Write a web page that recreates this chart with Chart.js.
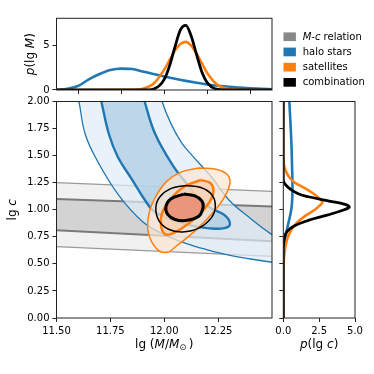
<!DOCTYPE html>
<html>
<head>
<meta charset="utf-8">
<script src="https://cdn.jsdelivr.net/npm/chart.js@4/dist/chart.umd.min.js"></script>
<style>
  html, body { margin: 0; padding: 0; background: #fff; }
  #wrap { position: relative; width: 374px; height: 374px; }
  canvas { position: absolute; left: 0; top: 0; }
</style>
</head>
<body>
<div id="wrap">
  <canvas id="main" width="374" height="374"></canvas>
  <canvas id="top" width="374" height="374"></canvas>
  <canvas id="side" width="374" height="374"></canvas>
</div>
<script>
// Ticks
const mainMassTicks = [11.5, 11.75, 12.0, 12.25];
const concTicks = [0, 0.25, 0.5, 0.75, 1.0, 1.25, 1.5, 1.75, 2.0];
const topMassTicks = [11.6, 11.8, 12.0, 12.2, 12.4];
const topDensityTicks = [0, 5];
const sideDensityTicks = [0, 2.5, 5];

// Legend
const legendLabels = ["M-c relation", "halo stars", "satellites", "combination"];
const legendColors = ["#888888", "#1f77b4", "#ff7f0e", "#000000"];

// M-c relation: 1 and 2 sigma band edges (lg c at lg M = 11.5 and 12.5)
const mcMass = [11.5, 12.5];
const mcUpper2 = [1.25, 1.17];
const mcUpper1 = [1.10, 1.03];
const mcLower1 = [0.81, 0.71];
const mcLower2 = [0.66, 0.57];

// Halo stars contours (closed, run past the frame)
const haloOuterM = [11.585, 11.604, 11.633, 11.69, 11.79, 11.90, 12.00, 12.10, 12.20, 12.30, 12.40, 12.50, 12.62,
                    12.62, 12.50, 12.40, 12.30, 12.22, 12.13, 12.08, 12.03, 11.99, 11.975, 11.585];
const haloOuterC = [2.15, 2.00, 1.70, 1.45, 1.13, 0.89, 0.77, 0.69, 0.63, 0.58, 0.545, 0.515, 0.48,
                    0.62, 0.77, 0.92, 1.09, 1.30, 1.50, 1.62, 1.80, 2.00, 2.15, 2.15];
const haloInnerM = [11.69, 11.708, 11.743, 11.784, 11.85, 11.91, 11.95, 12.02, 12.12, 12.21, 12.28, 12.305,
                    12.28, 12.22, 12.168, 12.105, 12.045, 11.958, 11.909, 11.89, 11.69];
const haloInnerC = [2.15, 2.00, 1.70, 1.49, 1.28, 1.09, 0.99, 0.92, 0.855, 0.828, 0.83, 0.87,
                    0.95, 1.01, 1.088, 1.24, 1.394, 1.70, 2.00, 2.15, 2.15];

// Satellites contours
const satOuterM = [12.16, 12.24, 12.29, 12.305, 12.28, 12.22, 12.14, 12.06, 12.01, 11.96, 11.925, 11.93, 11.96, 12.01, 12.08, 12.16];
const satOuterC = [1.385, 1.375, 1.33, 1.25, 1.12, 0.96, 0.80, 0.67, 0.605, 0.65, 0.80, 0.97, 1.12, 1.26, 1.35, 1.385];
const satInnerM = [12.17, 12.215, 12.228, 12.21, 12.16, 12.09, 12.03, 12.0, 11.985, 11.99, 12.03, 12.09, 12.17];
const satInnerC = [1.275, 1.245, 1.17, 1.07, 0.95, 0.84, 0.775, 0.78, 0.86, 0.97, 1.10, 1.21, 1.275];

// Combination contours
const combOuterM = [12.10, 12.17, 12.22, 12.237, 12.22, 12.16, 12.085, 12.02, 11.975, 11.961, 11.98, 12.03, 12.10];
const combOuterC = [1.225, 1.205, 1.14, 1.04, 0.93, 0.83, 0.795, 0.82, 0.90, 1.02, 1.12, 1.195, 1.225];
const combInnerM = [12.09, 12.14, 12.175, 12.18, 12.16, 12.10, 12.05, 12.015, 12.008, 12.03, 12.09];
const combInnerC = [1.145, 1.13, 1.08, 1.02, 0.94, 0.90, 0.91, 0.96, 1.03, 1.10, 1.145];

// Top marginal p(lg M)
const haloMassX = [11.50, 11.55, 11.60, 11.65, 11.70, 11.75, 11.80, 11.85, 11.90, 11.95, 12.00, 12.05, 12.10, 12.15, 12.20, 12.25, 12.30, 12.35, 12.40, 12.45, 12.50];
const haloMassP = [0.03, 0.15, 0.45, 1.2, 1.8, 2.25, 2.42, 2.37, 2.1, 1.8, 1.52, 1.26, 1.03, 0.82, 0.63, 0.48, 0.36, 0.27, 0.19, 0.13, 0.09];
const satMassX = [11.50, 11.85, 11.90, 11.95, 12.00, 12.025, 12.05, 12.075, 12.10, 12.125, 12.15, 12.175, 12.20, 12.25, 12.30, 12.35, 12.40, 12.50];
const satMassP = [0, 0.02, 0.14, 0.7, 2.3, 3.4, 4.5, 5.2, 5.44, 5.0, 4.1, 3.0, 1.9, 0.52, 0.1, 0.01, 0, 0];
const combMassX = [11.50, 11.90, 11.95, 12.00, 12.025, 12.05, 12.075, 12.10, 12.125, 12.15, 12.175, 12.20, 12.25, 12.30, 12.50];
const combMassP = [0, 0, 0.11, 1.2, 2.75, 4.9, 6.8, 7.3, 6.1, 4.0, 2.0, 0.81, 0.06, 0, 0];

// Right marginal p(lg c)
const haloConcC = [0, 0.45, 0.55, 0.65, 0.75, 0.85, 0.95, 1.05, 1.20, 1.40, 1.60, 1.80, 2.00];
const haloConcP = [0, 0, 0.02, 0.06, 0.15, 0.31, 0.48, 0.60, 0.64, 0.61, 0.57, 0.50, 0.42];
const satConcC = [0, 0.40, 0.50, 0.60, 0.70, 0.75, 0.80, 0.85, 0.90, 0.95, 1.00, 1.04, 1.07, 1.10, 1.15, 1.20, 1.25, 1.30, 1.35, 1.40, 1.45, 1.60, 2.00];
const satConcP = [0, 0, 0.02, 0.08, 0.21, 0.33, 0.50, 0.75, 1.12, 1.60, 2.20, 2.55, 2.72, 2.55, 2.10, 1.50, 0.80, 0.42, 0.20, 0.07, 0.02, 0, 0];
const combConcC = [0, 0.65, 0.70, 0.75, 0.80, 0.85, 0.90, 0.95, 1.00, 1.025, 1.05, 1.08, 1.12, 1.15, 1.20, 1.25, 1.30, 2.00];
const combConcP = [0, 0, 0.03, 0.10, 0.27, 0.75, 1.70, 3.05, 4.25, 4.60, 4.30, 3.20, 1.75, 1.00, 0.40, 0.05, 0, 0];

const FONT = '"DejaVu Sans", sans-serif';
const pts = (xs, ys) => xs.map((x, i) => ({ x, y: ys[i] }));
const band = (xs, hi, lo) => pts(xs.concat([...xs].reverse()), hi.concat([...lo].reverse()));

// Mixed upright/italic text (matplotlib mathtext look-alike)
function drawRich(ctx, parts, x, y, size, rot, align) {
  const fontFor = (p) => `${p.i ? "italic " : ""}${p.s ? size * 0.7 : size}px ${FONT}`;
  ctx.save();
  ctx.translate(x, y);
  if (rot) ctx.rotate(rot);
  let w = 0;
  for (const p of parts) { ctx.font = fontFor(p); w += ctx.measureText(p.t).width; }
  let cx = align === "left" ? 0 : -w / 2;
  ctx.fillStyle = "#000";
  ctx.textBaseline = "middle";
  ctx.textAlign = "left";
  for (const p of parts) {
    ctx.font = fontFor(p);
    ctx.fillText(p.t, cx, p.s ? size * 0.3 : 0);
    cx += ctx.measureText(p.t).width;
  }
  ctx.restore();
}

// Single-letter symbols M and c go in italics
const richLabel = (s) => s.split(/\b([Mc])\b/).filter(Boolean).map((t) => ({ t, i: t === "M" || t === "c" }));

function drawLegend(ctx) {
  legendLabels.forEach((label, i) => {
    const cy = 36.7 + i * 15.2;
    ctx.fillStyle = legendColors[i];
    ctx.fillRect(283.5, cy - 4.3, 12.4, 8.7);
    drawRich(ctx, richLabel(label), 302.7, cy + 0.5, 10, 0, "left");
  });
}

const decor = {
  id: "decor",
  afterDatasetsDraw(chart) {
    const { ctx, chartArea: a } = chart;
    ctx.save();
    ctx.strokeStyle = "#222";
    ctx.lineWidth = 1;
    ctx.strokeRect(a.left, a.top, a.right - a.left, a.bottom - a.top);
    ctx.restore();
  },
  afterDraw(chart, args, opts) {
    const a = chart.chartArea;
    for (const t of opts.titles || []) {
      const x = t.axis === "x" ? (a.left + a.right) / 2 : t.pos;
      const y = t.axis === "x" ? t.pos : (a.top + a.bottom) / 2;
      drawRich(chart.ctx, t.parts, x, y, 12, t.axis === "y" ? -Math.PI / 2 : 0, "center");
    }
    if (opts.legend) drawLegend(chart.ctx);
  },
};

function axis(min, max, ticks, fmt, fit) {
  return {
    type: "linear",
    min, max,
    afterBuildTicks: (ax) => { ax.ticks = ticks.map((value) => ({ value })); },
    afterFit: fit,
    grid: { drawOnChartArea: false, drawTicks: true, tickLength: 4, color: "#222", lineWidth: 1 },
    border: { display: false },
    ticks: { autoSkip: false, maxRotation: 0, padding: 3, color: "#000", font: { family: FONT, size: 10 }, callback: fmt },
  };
}

function curve(data, color, width, extra) {
  return Object.assign({
    data, borderColor: color, borderWidth: width, backgroundColor: "rgba(0,0,0,0)",
    pointRadius: 0, showLine: true, fill: false, tension: 0.4,
    borderJoinStyle: "round", capBezierPoints: false,
  }, extra);
}

function make(id, datasets, scales, padding, decorOpts) {
  datasets.forEach((d, i) => { d.order = -i; }); // later datasets on top
  return new Chart(document.getElementById(id), {
    type: "scatter",
    data: { datasets },
    options: {
      responsive: false,
      devicePixelRatio: 1,
      animation: false,
      events: [],
      layout: { padding },
      elements: { line: { capBezierPoints: false } },
      scales,
      plugins: { legend: { display: false }, tooltip: { enabled: false }, decor: decorOpts },
    },
    plugins: [decor],
  });
}

const noLabel = () => "";
const fixed = (n) => (v) => Number(v).toFixed(n);

// Main panel
make("main", [
  curve(band(mcMass, mcUpper2, mcLower2), "rgba(0,0,0,0)", 0, { fill: "shape", backgroundColor: "rgba(128,128,128,0.11)", tension: 0 }),
  curve(band(mcMass, mcUpper1, mcLower1), "rgba(0,0,0,0)", 0, { fill: "shape", backgroundColor: "rgba(128,128,128,0.27)", tension: 0 }),
  curve(pts(mcMass, mcUpper2), "#9a9a9a", 1.3, { tension: 0 }),
  curve(pts(mcMass, mcLower2), "#9a9a9a", 1.3, { tension: 0 }),
  curve(pts(mcMass, mcUpper1), "#7a7a7a", 2, { tension: 0 }),
  curve(pts(mcMass, mcLower1), "#7a7a7a", 2, { tension: 0 }),
  curve(pts(haloOuterM, haloOuterC), "#1f77b4", 1.3, { fill: "shape", backgroundColor: "rgba(225,236,246,0.7)" }),
  curve(pts(haloInnerM, haloInnerC), "#1f77b4", 2.4, { fill: "shape", backgroundColor: "rgba(170,203,227,0.7)" }),
  curve(pts(satOuterM, satOuterC), "#ff7f0e", 1.5, { fill: "shape", backgroundColor: "rgba(252,230,210,0.72)" }),
  curve(pts(satInnerM, satInnerC), "#ff7f0e", 2.5, { fill: "shape", backgroundColor: "rgba(248,205,170,0.72)" }),
  curve(pts(combOuterM, combOuterC), "#000", 1.5),
  curve(pts(combInnerM, combInnerC), "#000", 3, { fill: "shape", backgroundColor: "rgb(233,150,122)" }),
], {
  x: axis(11.5, 12.5, mainMassTicks, fixed(2), (ax) => { ax.height = 56; }),
  y: axis(0, 2, concTicks, fixed(2), (ax) => { ax.width = 56.5; }),
}, { top: 101.5, right: 102, left: 0, bottom: 0 }, {
  titles: [
    { axis: "x", pos: 344.5, parts: [{ t: "lg (" }, { t: "M", i: 1 }, { t: "/" }, { t: "M", i: 1 }, { t: "\u2299", s: 1 }, { t: "\u2009)" }] },
    { axis: "y", pos: 13, parts: [{ t: "lg " }, { t: "c", i: 1 }] },
  ],
});

// Top marginal
make("top", [
  curve(pts(haloMassX, haloMassP), "#1f77b4", 2.6, { cubicInterpolationMode: "monotone" }),
  curve(pts(satMassX, satMassP), "#ff7f0e", 2.6, { cubicInterpolationMode: "monotone" }),
  curve(pts(combMassX, combMassP), "#000", 2.8, { cubicInterpolationMode: "monotone" }),
], {
  x: axis(11.5, 12.5, topMassTicks, noLabel, (ax) => { ax.height = 284; }),
  y: axis(0, 8.1, topDensityTicks, fixed(0), (ax) => { ax.width = 56.5; }),
}, { top: 18.3, right: 102, left: 0, bottom: 0 }, {
  legend: true,
  titles: [
    { axis: "y", pos: 31, parts: [{ t: "p", i: 1 }, { t: "(lg " }, { t: "M", i: 1 }, { t: ")" }] },
  ],
});

// Right marginal
make("side", [
  curve(pts(haloConcP, haloConcC), "#1f77b4", 2.6),
  curve(pts(satConcP, satConcC), "#ff7f0e", 2.6),
  curve(pts(combConcP, combConcC), "#000", 2.8),
], {
  x: axis(0, 5, sideDensityTicks, fixed(1), (ax) => { ax.height = 56; }),
  y: axis(0, 2, concTicks, noLabel, (ax) => { ax.width = 283.3; }),
}, { top: 101.5, right: 19, left: 0, bottom: 0 }, {
  titles: [
    { axis: "x", pos: 345, parts: [{ t: "p", i: 1 }, { t: "(lg " }, { t: "c", i: 1 }, { t: ")" }] },
  ],
});
</script>
</body>
</html>
